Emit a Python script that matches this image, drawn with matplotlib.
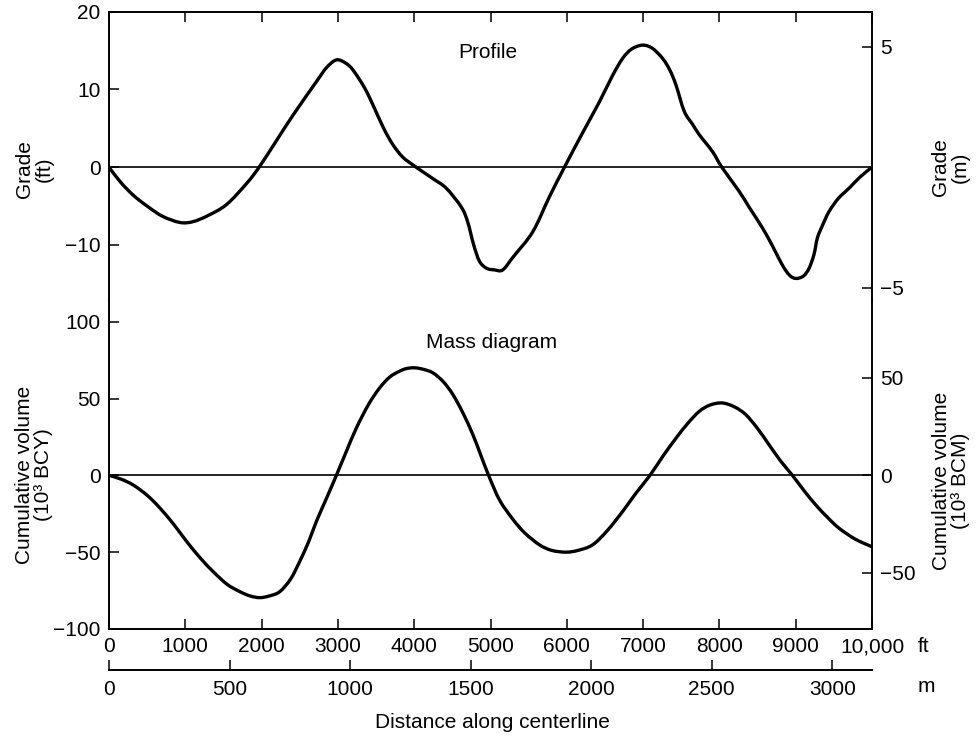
import matplotlib
matplotlib.use("Agg")
import matplotlib.pyplot as plt
from matplotlib.path import Path
from matplotlib.patches import PathPatch

plt.rcParams['font.family'] = ['Liberation Sans', 'DejaVu Sans']
FS = 15

# ---- data ----
profile_ft = [0, 150, 318, 500, 700, 929, 1100, 1300, 1540, 1802, 1967, 2200, 2412, 2718,
              2850, 2980, 3100, 3198, 3350, 3460, 3600, 3721, 3850, 3983, 4100, 4250, 4420,
              4616, 4700, 4780, 4856, 4950, 5052, 5161, 5300, 5554, 5772, 5969, 6200, 6427,
              6600, 6732, 6850, 6993, 7120, 7255, 7350, 7430, 7539, 7650, 7735, 7910, 8032,
              8259, 8400, 8564, 8700, 8826, 8920, 9001, 9100, 9175, 9240, 9284, 9350, 9437,
              9560, 9699, 9850, 10000]
profile_grade = [0, -1.9, -3.6, -5.0, -6.3, -7.1, -7.0, -6.2, -4.8, -2.1, 0, 3.5, 6.7, 11.0,
                 12.8, 13.8, 13.4, 12.5, 10.2, 8.0, 5.0, 2.9, 1.3, 0.3, -0.5, -1.5, -2.7,
                 -5.1, -7.0, -10.0, -12.1, -13.0, -13.2, -13.2, -11.5, -8.3, -3.8, 0, 4.3, 8.4,
                 11.8, 14.0, 15.2, 15.7, 15.3, 14.0, 12.5, 10.6, 7.2, 5.5, 4.2, 2.0, 0,
                 -3.1, -5.3, -7.8, -10.2, -12.6, -13.9, -14.3, -14.0, -13.0, -11.2, -9.1, -7.5, -5.7,
                 -4.0, -2.7, -1.2, 0]

mass_ft = [0, 160, 318, 500, 668, 850, 1017, 1200, 1366, 1550, 1715, 1850, 1976, 2100, 2238,
           2380, 2500, 2618, 2718, 2850, 2980, 3110, 3242, 3400, 3547, 3680, 3809, 3900, 4005,
           4120, 4245, 4380, 4507, 4640, 4769, 4870, 4975, 5118, 5292, 5450, 5641, 5800, 5990,
           6150, 6339, 6530, 6732, 6900, 7090, 7260, 7430, 7580, 7735, 7880, 8040, 8200, 8346,
           8500, 8651, 8800, 8957, 9110, 9262, 9420, 9568, 9780, 10000]
mass_vol = [0, -2.5, -6.3, -13, -21.3, -32, -43, -54, -62.7, -71, -75.7, -78.5, -79.6, -78.5, -75.7,
            -67.5, -56, -43, -30, -15, 0, 15.5, 30.8, 46, 56.9, 64, 67.8, 69.5, 70,
            69, 66.7, 61, 52.6, 40.5, 26.5, 13.5, 0, -16, -28.5, -37.5, -45.2, -48.8, -50,
            -48.8, -45.2, -36, -23.5, -12, 0, 12.5, 24.1, 33.5, 41.6, 45.8, 47.1, 44.5, 39.5,
            30.5, 19.9, 9.5, 0, -10, -19.2, -27.5, -34.4, -41.5, -46.5]

ft_ticks = list(range(0, 10001, 1000))
ft_labels = ['0', '1000', '2000', '3000', '4000', '5000', '6000', '7000', '8000', '9000', '10,000']
m_ticks = [0, 500, 1000, 1500, 2000, 2500, 3000]
m_labels = ['0', '500', '1000', '1500', '2000', '2500', '3000']
grade_ft_ticks = [20, 10, 0, -10]
grade_ft_labels = ['20', '10', '0', '\u221210']
grade_m_ticks = [5, -5]
grade_m_labels = ['5', '\u22125']
vol_bcy_ticks = [100, 50, 0, -50, -100]
vol_bcy_labels = ['100', '50', '0', '\u221250', '\u2212100']
vol_bcm_ticks = [50, 0, -50]
vol_bcm_labels = ['50', '0', '\u221250']


def smooth_path(xs, ys):
    """Bezier path passing through the read points (Catmull-Rom control points)."""
    pts = list(zip(xs, ys))
    n = len(pts)
    verts = [pts[0]]
    codes = [Path.MOVETO]
    for i in range(n - 1):
        p0 = pts[i - 1] if i > 0 else pts[i]
        p1 = pts[i]
        p2 = pts[i + 1]
        p3 = pts[i + 2] if i + 2 < n else pts[i + 1]
        c1 = (p1[0] + (p2[0] - p0[0]) / 6.0, p1[1] + (p2[1] - p0[1]) / 6.0)
        c2 = (p2[0] - (p3[0] - p1[0]) / 6.0, p2[1] - (p3[1] - p1[1]) / 6.0)
        verts += [c1, c2, p2]
        codes += [Path.CURVE4] * 3
    return Path(verts, codes)


W, H = 976, 736
fig = plt.figure(figsize=(W / 100, H / 100), dpi=100)

L, R = 109, 872
TOP, SPLIT, BOT = 11.7, 300, 629


def frac_rect(x0, y0, x1, y1):
    return [x0 / W, 1 - y1 / H, (x1 - x0) / W, (y1 - y0) / H]


SP_LW = 1.4
TK = dict(direction='in', length=7.5, width=1.1, labelsize=FS)

# top axes: profile
ax1 = fig.add_axes(frac_rect(L, TOP, R, SPLIT))
ax1.set_xlim(0, 10000)
g_scale = (245 - 11.7) / 30.0
ax1.set_ylim(20 - (SPLIT - TOP) / g_scale, 20)
ax1.add_patch(PathPatch(smooth_path(profile_ft, profile_grade), fill=False,
                        edgecolor='black', lw=2.4, joinstyle='round', capstyle='round'))
ax1.axhline(0, color='black', lw=1.2)
ax1.spines['bottom'].set_visible(False)
for s in ['top', 'left', 'right']:
    ax1.spines[s].set_linewidth(SP_LW)
ax1.set_xticks(ft_ticks)
ax1.set_yticks(grade_ft_ticks)
ax1.set_yticklabels(grade_ft_labels)
ax1.tick_params(axis='x', top=True, bottom=False, labelbottom=False, labeltop=False, **TK)
ax1.tick_params(axis='y', pad=6, **TK)
ax1.text(4970, 20 - (52 - TOP) / g_scale, 'Profile', fontsize=FS, ha='center', va='center')

ax1r = ax1.twinx()
fac_g = 3.1
lo, hi = ax1.get_ylim()
ax1r.set_ylim(lo / fac_g, hi / fac_g)
ax1r.set_yticks(grade_m_ticks)
ax1r.set_yticklabels(grade_m_labels)
ax1r.tick_params(axis='y', pad=6, **TK)
for s in ax1r.spines.values():
    s.set_visible(False)

# bottom axes: mass diagram
ax2 = fig.add_axes(frac_rect(L, SPLIT, R, BOT))
ax2.set_xlim(0, 10000)
v_scale = (629 - 321.7) / 200.0
ax2.set_ylim(-100, -100 + (BOT - SPLIT) / v_scale)
ax2.add_patch(PathPatch(smooth_path(mass_ft, mass_vol), fill=False,
                        edgecolor='black', lw=2.4, joinstyle='round', capstyle='round'))
ax2.axhline(0, color='black', lw=1.2)
ax2.spines['top'].set_visible(False)
for s in ['bottom', 'left', 'right']:
    ax2.spines[s].set_linewidth(SP_LW)
ax2.set_xticks(ft_ticks)
ax2.set_xticklabels(ft_labels)
ax2.set_yticks(vol_bcy_ticks)
ax2.set_yticklabels(vol_bcy_labels)
ax2.tick_params(axis='x', pad=6, **TK)
ax2.tick_params(axis='y', pad=6, **TK)
ax2.text(5010, -100 + (BOT - 343) / v_scale, 'Mass diagram', fontsize=FS, ha='center', va='center')

ax2r = ax2.twinx()
fac_v = 1.27
lo, hi = ax2.get_ylim()
ax2r.set_ylim(lo / fac_v, hi / fac_v)
ax2r.set_yticks(vol_bcm_ticks)
ax2r.set_yticklabels(vol_bcm_labels)
ax2r.tick_params(axis='y', pad=6, **TK)
for s in ax2r.spines.values():
    s.set_visible(False)

# metre scale
axm = fig.add_axes([L / W, 1 - 670 / H, (R - L) / W, 0.0005])
axm.set_xlim(0, 3165)
axm.set_xticks(m_ticks)
axm.set_xticklabels(m_labels)
axm.set_yticks([])
for s in ['top', 'left', 'right']:
    axm.spines[s].set_visible(False)
axm.spines['bottom'].set_linewidth(SP_LW)
axm.tick_params(axis='x', direction='in', length=7, width=1.1, labelsize=FS, pad=7)
axm.patch.set_visible(False)

# unit labels and titles
fig.text(918 / W, 1 - 647 / H, 'ft', fontsize=FS, ha='left', va='center')
fig.text(918 / W, 1 - 687 / H, 'm', fontsize=FS, ha='left', va='center')
fig.text(492 / W, 1 - 723 / H, 'Distance along centerline', fontsize=FS, ha='center', va='center')

fig.text(34 / W, 1 - 169 / H, 'Grade\n(ft)', fontsize=FS, rotation=90, ha='center', va='center',
         multialignment='center', linespacing=1.05)
fig.text(34 / W, 1 - 475 / H, 'Cumulative volume\n(10\u00b3 BCY)', fontsize=FS, rotation=90,
         ha='center', va='center', multialignment='center', linespacing=1.05)
fig.text(950 / W, 1 - 167 / H, 'Grade\n(m)', fontsize=FS, rotation=90, ha='center', va='center',
         multialignment='center', linespacing=1.05)
fig.text(951 / W, 1 - 481 / H, 'Cumulative volume\n(10\u00b3 BCM)', fontsize=FS, rotation=90,
         ha='center', va='center', multialignment='center', linespacing=1.05)

fig.savefig('out.png', dpi=100)
